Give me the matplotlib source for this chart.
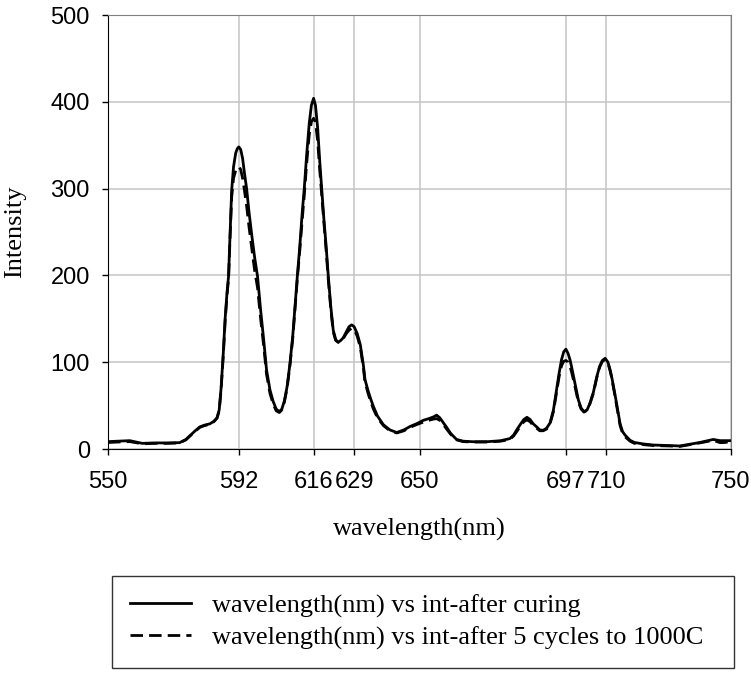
import numpy as np
import matplotlib
matplotlib.use("Agg")
import matplotlib.pyplot as plt

# Spectrum after curing (solid line)
wl_cure = [550, 553, 557, 561, 565, 569, 573, 575, 576.5, 578, 579.5, 581, 582.7, 584, 585,
           585.7, 586.3, 587, 587.6, 588.2, 588.7, 589.2, 589.7, 590.3, 591, 591.5, 592, 592.6,
           593.2, 593.8, 594.5, 595.3, 596.2, 597.1, 598, 599, 600, 600.9, 602, 603, 604, 605,
           605.8, 606.6, 607.5, 608.4, 609.3, 610.1, 610.8, 611.6, 612.3, 613, 613.8, 614.6,
           615.3, 616, 616.6, 617.3, 618, 618.6, 619.3, 620, 620.7, 621.5, 622.3, 623.1, 623.9,
           624.7, 625.5, 626.5, 627.4, 628.2, 629, 630, 631, 632, 632.5, 633.5, 634.3, 635.2,
           636.5, 638.4, 640.5, 642.7, 645, 647, 649, 651.2, 653, 654.5, 655.5, 656.5, 657.5,
           658.7, 660, 661.9, 664, 667, 672, 676, 679, 680.2, 681.2, 682.5, 683.5, 684.5, 685.5,
           686.5, 687.6, 688.6, 689.7, 690.8, 691.9, 693, 694, 694.8, 695.6, 696.3, 697, 697.7,
           698.3, 698.8, 699.9, 701, 701.9, 702.8, 703.8, 704.7, 705.8, 706.9, 707.8, 708.7,
           709.6, 710.5, 711.2, 711.7, 712.8, 713.8, 714.4, 715.2, 716, 717.6, 719, 721.9, 725,
           730, 733.6, 736, 740, 744.3, 746.5, 748, 750]
int_cure = [8.5, 9, 9.6, 6.5, 7, 7, 7.3, 11, 16, 21, 25.5, 27.5, 29, 32, 36,
            45, 70, 110, 150, 180, 199, 250, 298, 325, 341, 346, 348, 345,
            335, 318, 300, 272, 245, 220, 199, 160, 125, 91, 68, 55, 46, 43,
            46, 55, 72, 98, 130, 168, 200, 235, 270, 300, 340, 375,
            396, 404, 396, 370, 330, 300, 265, 235, 200, 165, 137, 126, 123,
            125, 128, 135, 141, 143, 141, 133, 120, 96, 80, 67, 58, 49,
            38, 28, 22, 19, 22, 26, 29, 33, 35, 37, 39, 36, 31,
            25, 18, 11, 9, 8.4, 8.5, 9.5, 12, 16, 22, 29, 34, 36.5, 34,
            29, 25.5, 22, 21.5, 24, 30, 45, 68, 87, 103, 112, 115, 110,
            103, 95, 76, 56.5, 47, 43, 45, 52.6, 65, 83, 95, 102,
            104.5, 100, 91, 83, 62, 41, 29, 20, 16, 10, 7.5, 5.8, 4.6,
            4, 3.5, 5, 7.5, 11, 9.6, 9.6, 9.6]

# Spectrum after 5 cycles to 1000C (dashed line)
wl_cyc = wl_cure
int_cyc = [7.5, 8, 8.5, 6, 6.5, 6.5, 7, 10.5, 15.5, 20.5, 25, 27, 28.5, 31.5, 35.5,
           44, 68, 107, 147, 177, 196, 245, 290, 312, 321, 324, 325, 322,
           312, 298, 280, 255, 230, 205, 186, 150, 118, 86, 64, 52, 44, 42,
           45, 54, 70, 96, 127, 165, 197, 230, 262, 292, 330, 362,
           377, 381, 377, 355, 320, 293, 260, 230, 196, 162, 135, 125, 123,
           125, 127, 133, 137, 139, 138, 130, 117, 93, 77, 64, 55, 46,
           36, 27, 21, 18.5, 21, 25, 28, 31, 33, 34.5, 35, 33, 29,
           23, 17, 10.5, 8.5, 8, 8, 9, 11, 15, 20, 27, 31.5, 33.5, 31.5,
           27, 24, 21, 21, 23, 29, 43, 65, 83, 96, 101, 102, 100,
           95, 89, 72, 54, 46, 42.5, 44.5, 52, 64, 82, 94, 101,
           103, 99, 90, 82, 60, 39, 27, 18, 14, 9, 6.5, 5, 4,
           3.5, 3, 4.5, 7, 10, 7.3, 7.5, 8.5]

xticks = [550, 592, 616, 629, 650, 697, 710, 750]
yticks = [0, 100, 200, 300, 400, 500]
labels = ["wavelength(nm) vs int-after curing",
          "wavelength(nm) vs int-after 5 cycles to 1000C"]

W, H = 751, 673
fig = plt.figure(figsize=(W / 100, H / 100), dpi=100)
ax = fig.add_axes([108 / W, 1 - 449 / H, (731 - 108) / W, (449 - 15) / H])

l1, = ax.plot(wl_cure, int_cure, color="black", lw=2.0, ls="-",
              solid_joinstyle="round", label=labels[0])
l2, = ax.plot(wl_cyc, int_cyc, color="black", lw=2.0, ls=(0, (4.5, 2.2)),
              dash_joinstyle="round", label=labels[1])

ax.set_xlim(550, 750)
ax.set_ylim(0, 500)
ax.set_xticks(xticks)
ax.set_yticks(yticks)
ax.grid(True, color="#c4c4c4", lw=1.1)
ax.set_axisbelow(True)
for s in ["top", "right"]:
    ax.spines[s].set_color("#808080")
for s in ["left", "bottom"]:
    ax.spines[s].set_color("black")
ax.tick_params(axis="both", direction="out", length=4, width=1, colors="black",
               labelsize=17)
ax.tick_params(axis="x", pad=12)
ax.tick_params(axis="y", pad=9)
for t in ax.get_xticklabels() + ax.get_yticklabels():
    t.set_family("Liberation Sans")

ax.set_xlabel("wavelength(nm)", family="Liberation Serif", fontsize=19)
ax.xaxis.set_label_coords(0.5, (449 - 529) / 434)
ax.xaxis.label.set_va("center")
ax.set_ylabel("Intensity", family="Liberation Serif", fontsize=19)
ax.yaxis.set_label_coords((15 - 108) / 623, 0.5)
ax.yaxis.label.set_va("center")

bx0, bx1, by0, by1 = 112, 734, 573, 671
leg = fig.legend(handles=[l1, l2], labels=labels,
                 loc="center", mode="expand",
                 bbox_to_anchor=(bx0 / W, 1 - by1 / H, (bx1 - bx0) / W, (by1 - by0) / H),
                 prop={"family": "Liberation Serif", "size": 19},
                 frameon=True, fancybox=False, edgecolor="black",
                 handlelength=2.3, handletextpad=0.8, borderpad=0.7,
                 labelspacing=0.3, borderaxespad=0)
leg.get_frame().set_linewidth(1.0)

fig.savefig("out.png", dpi=100)
